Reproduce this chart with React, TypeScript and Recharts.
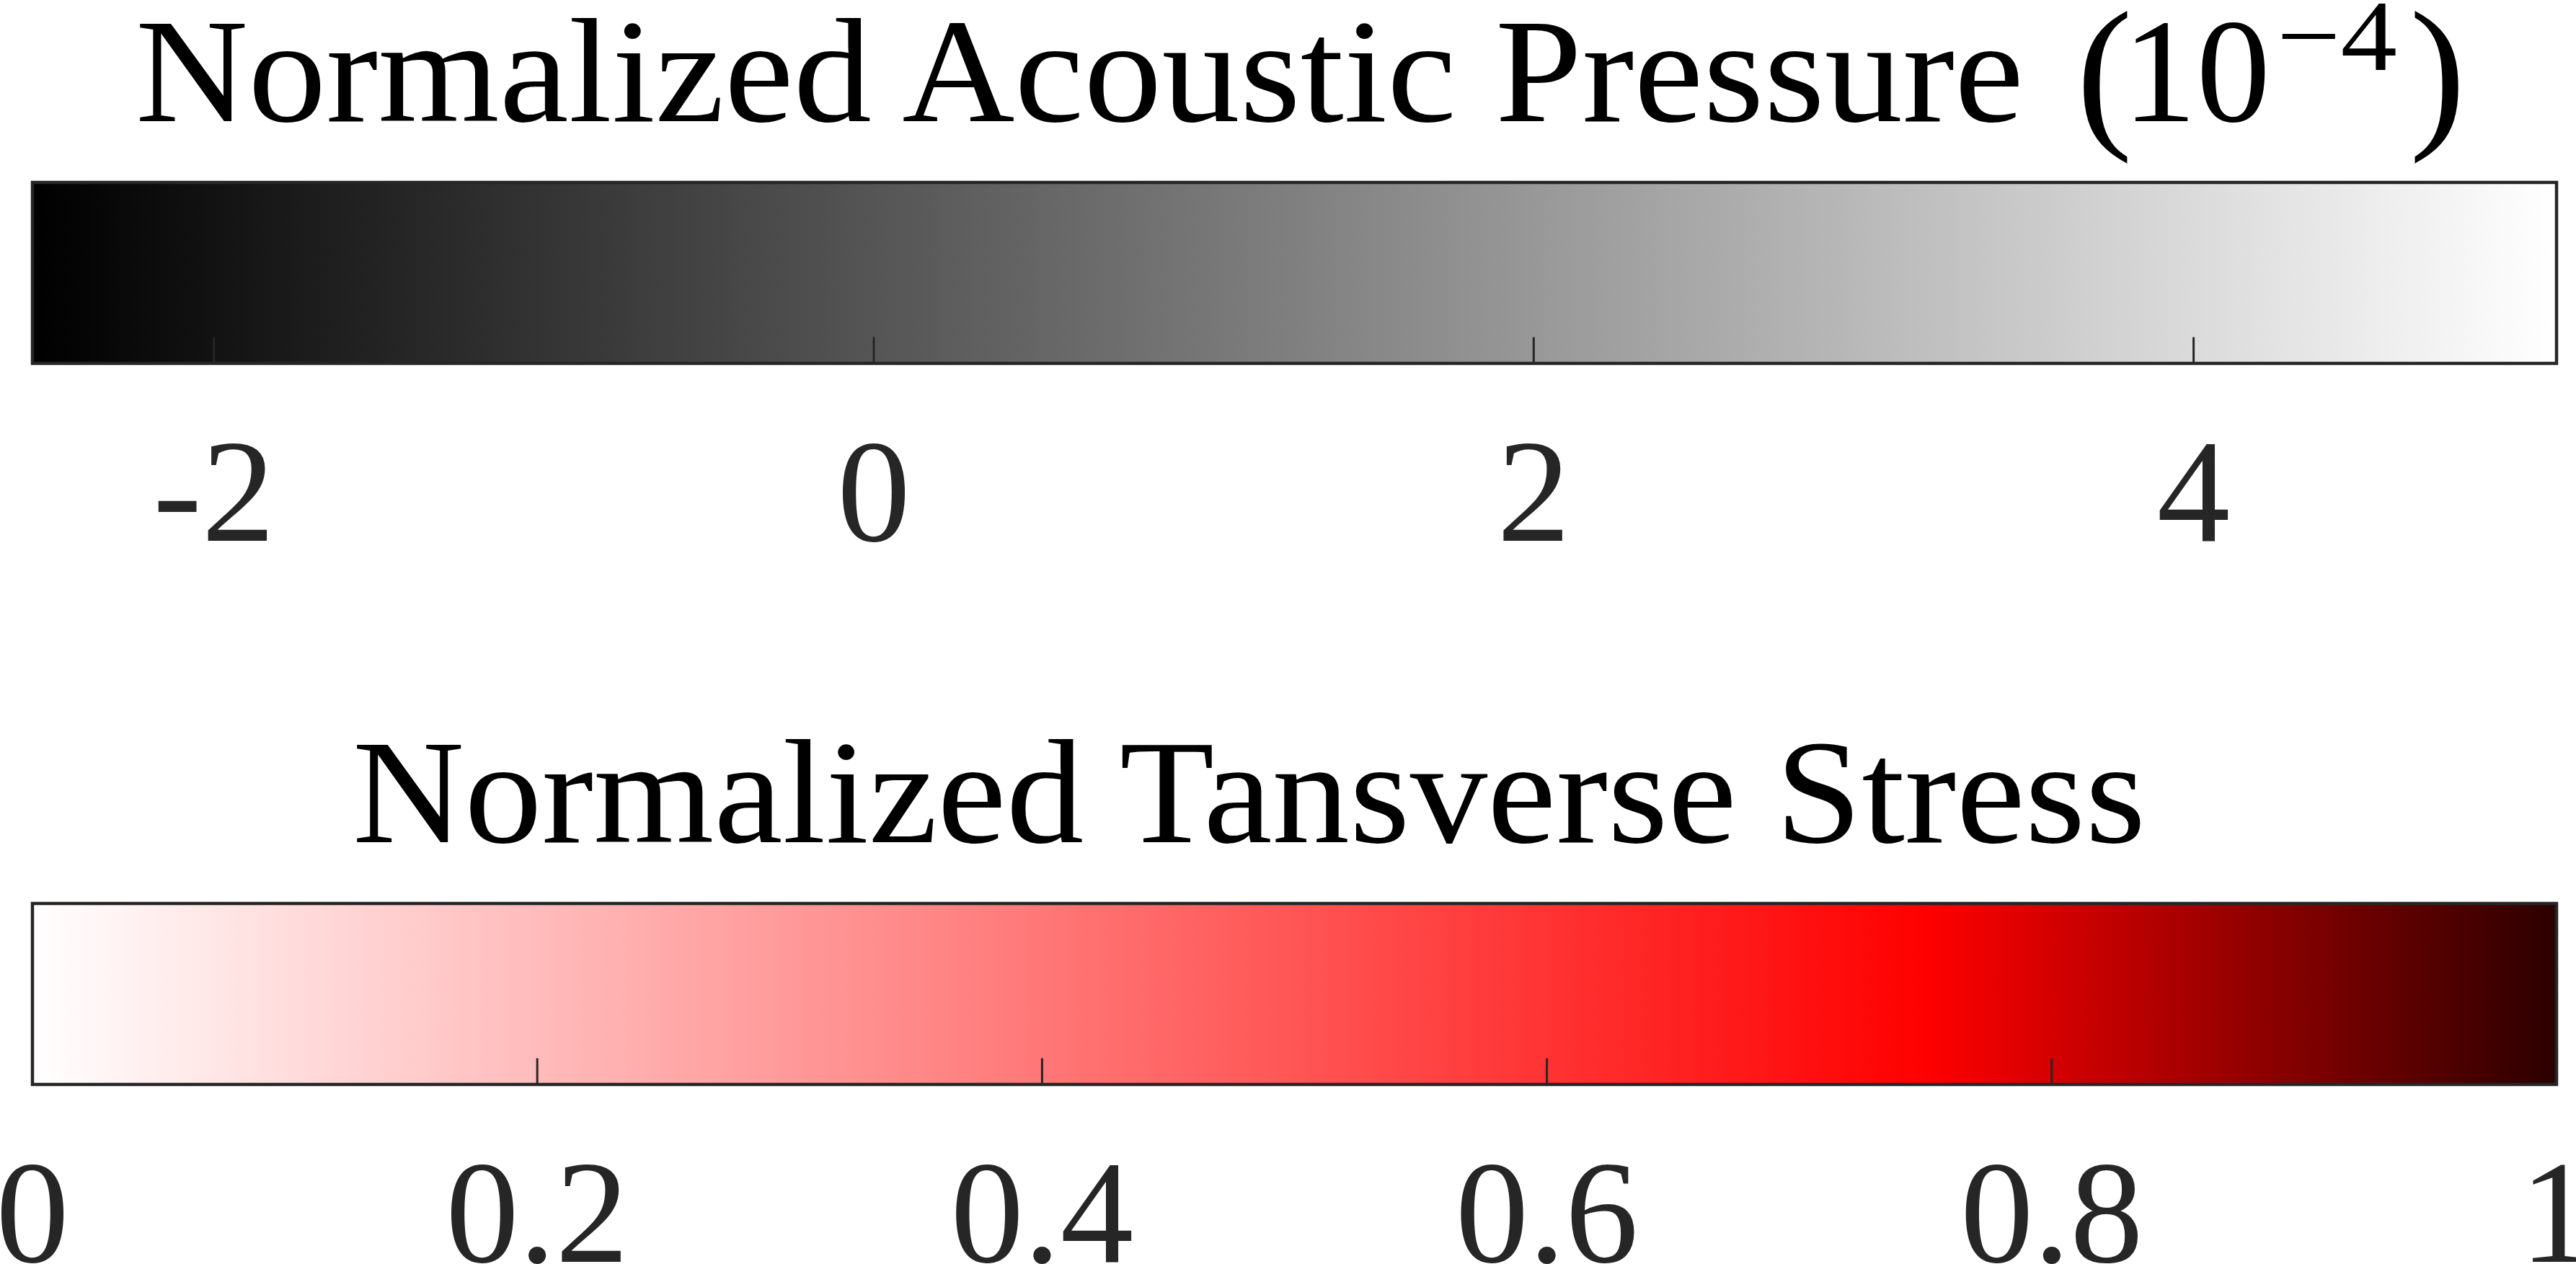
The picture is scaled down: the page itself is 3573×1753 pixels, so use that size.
import React from "react";
import { ComposedChart, Area, XAxis, YAxis, ReferenceArea, ReferenceLine } from "recharts";

// top colorbar: acoustic pressure (x 1e-4), gray colormap
const pressureDomain: [number, number] = [-2.55, 5.1];
const pressureTicks = [-2, 0, 2, 4];
const grayMap = [
  { at: 0, color: "#000000" },
  { at: 1, color: "#ffffff" },
];

// bottom colorbar: transverse stress, white -> red -> dark red
const stressDomain: [number, number] = [0, 1];
const stressTicks = [0, 0.2, 0.4, 0.6, 0.8, 1];
const redMap = [
  { at: 0, color: "#ffffff" },
  { at: 0.75, color: "#ff0000" },
  { at: 1, color: "#2b0000" },
];

const W = 3573;
const BAR_TOP = 253;
const BAR_H = 251;
const FONT = "'Liberation Serif', 'Times New Roman', serif";
const INK = "#262626";
const TICK_LEN = 0.145; // inward tick length as a fraction of the bar height

const TickLabel = (props: any) => {
  const { x, y, payload } = props;
  return (
    <text x={x} y={y + 246} textAnchor="middle" fontFamily={FONT} fontSize={203} fill={INK}>
      {String(payload.value)}
    </text>
  );
};

const PressureTitle = (props: any) => {
  const y = (props.viewBox?.y ?? 0) + 168;
  return (
    <g fontFamily={FONT} fill="#000">
      <text x={188} y={y} fontSize={205} textLength={2619} lengthAdjust="spacingAndGlyphs">
        Normalized Acoustic Pressure
      </text>
      <text x={2880} y={y + 9} fontSize={234}>(</text>
      <text x={2944} y={y} fontSize={205}>10</text>
      <text x={3158} y={y - 71} fontSize={140} textLength={167} lengthAdjust="spacingAndGlyphs">
        −4
      </text>
      <text x={3342} y={y + 9} fontSize={234}>)</text>
    </g>
  );
};

const StressTitle = (props: any) => {
  const y = (props.viewBox?.y ?? 0) + 168;
  return (
    <text x={489} y={y} fontFamily={FONT} fontSize={205} fill="#000" textLength={2487} lengthAdjust="spacingAndGlyphs">
      Normalized Tansverse Stress
    </text>
  );
};

type ColorBarProps = {
  id: string;
  domain: [number, number];
  ticks: number[];
  stops: { at: number; color: string }[];
  height: number;
  title: (props: any) => React.ReactElement;
};

const ColorBar: React.FC<ColorBarProps> = ({ id, domain, ticks, stops, height, title }) => {
  const data = [
    { x: domain[0], v: 1 },
    { x: domain[1], v: 1 },
  ];
  return (
    <ComposedChart width={W} height={height} data={data} margin={{ top: 0, left: 45, right: 27, bottom: 0 }}>
      <defs>
        <linearGradient id={id} x1="0" y1="0" x2="1" y2="0">
          {stops.map((s) => (
            <stop key={s.at} offset={s.at} stopColor={s.color} />
          ))}
        </linearGradient>
      </defs>
      <XAxis
        xAxisId="title"
        orientation="top"
        type="number"
        dataKey="x"
        domain={domain}
        height={BAR_TOP}
        tick={false}
        axisLine={false}
        tickLine={false}
        label={title}
      />
      <XAxis
        type="number"
        dataKey="x"
        domain={domain}
        ticks={ticks}
        interval={0}
        allowDataOverflow
        height={height - BAR_TOP - BAR_H}
        axisLine={false}
        tickLine={false}
        tickSize={0}
        tickMargin={0}
        tick={<TickLabel />}
      />
      <YAxis hide type="number" domain={[0, 1]} />
      <Area
        dataKey="v"
        type="linear"
        fill={`url(#${id})`}
        fillOpacity={1}
        stroke="none"
        dot={false}
        activeDot={false}
        isAnimationActive={false}
      />
      {ticks.map((t) => (
        <ReferenceLine
          key={t}
          segment={[
            { x: t, y: 0 },
            { x: t, y: TICK_LEN },
          ]}
          stroke={INK}
          strokeWidth={3}
          ifOverflow="visible"
        />
      ))}
      <ReferenceArea
        x1={domain[0]}
        x2={domain[1]}
        y1={0}
        y2={1}
        fill="none"
        fillOpacity={0}
        stroke={INK}
        strokeWidth={4.5}
        ifOverflow="visible"
      />
    </ComposedChart>
  );
};

export default function App() {
  return (
    <div style={{ position: "absolute", left: 0, top: 0, width: W, height: 1753, background: "#fff" }}>
      <ColorBar id="grayMap" domain={pressureDomain} ticks={pressureTicks} stops={grayMap} height={1000} title={PressureTitle} />
      <ColorBar id="redMap" domain={stressDomain} ticks={stressTicks} stops={redMap} height={753} title={StressTitle} />
    </div>
  );
}
